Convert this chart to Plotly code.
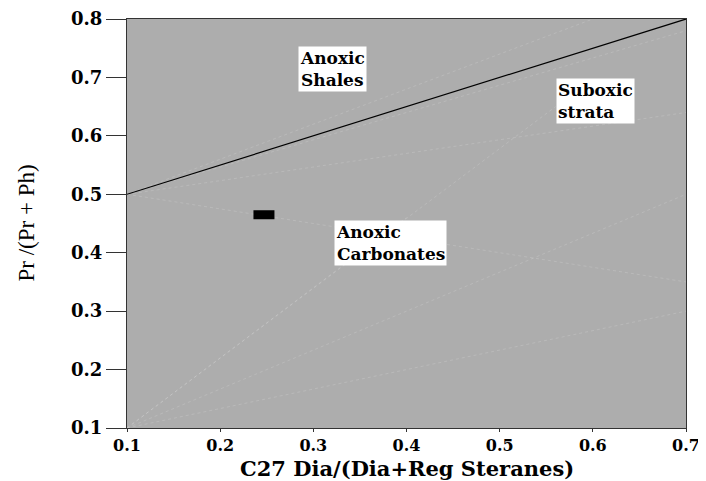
import plotly.graph_objects as go

# boundary line between anoxic shales and carbonates / suboxic
boundary_x = [0.1, 0.7]
boundary_y = [0.5, 0.8]

# sample point
sample_x = [0.247]
sample_y = [0.465]

# region labels
label_text = ["Anoxic<br>Shales", "Suboxic<br>strata", "Anoxic<br>Carbonates"]
label_x = [0.283, 0.56, 0.322]
label_y = [0.754, 0.699, 0.456]

# faint fan lines visible in the background
fan_x = [[0.1, 0.7], [0.1, 0.7], [0.1, 0.56], [0.1, 0.6], [0.1, 0.7],
         [0.1, 0.7], [0.1, 0.7], [0.1, 0.4]]
fan_y = [[0.1, 0.3], [0.1, 0.5], [0.1, 0.65], [0.5, 0.8], [0.5, 0.64],
         [0.5, 0.78], [0.5, 0.35], [0.1, 0.46]]

x_title = "C27 Dia/(Dia+Reg Steranes)"
y_title = "Pr /(Pr + Ph)"

serif_bold = "DejaVu Serif"
serif_plain = "Liberation Serif"

fig = go.Figure()

for fx, fy in zip(fan_x, fan_y):
    fig.add_trace(go.Scatter(
        x=fx, y=fy, mode="lines",
        line=dict(color="rgba(255,255,255,0.15)", width=1, dash="dot"),
        hoverinfo="skip", showlegend=False
    ))

fig.add_trace(go.Scatter(
    x=boundary_x, y=boundary_y, mode="lines",
    line=dict(color="black", width=1.2),
    showlegend=False
))

# sample drawn as a small wide black bar
fig.add_trace(go.Scatter(
    x=sample_x, y=sample_y, mode="markers",
    marker=dict(symbol="line-ew", size=15, line=dict(color="black", width=9)),
    showlegend=False
))

for t, lx, ly in zip(label_text, label_x, label_y):
    fig.add_annotation(
        x=lx, y=ly, text="<b>" + t + "</b>", showarrow=False,
        xanchor="left", yanchor="top", align="left",
        bgcolor="white", borderpad=1,
        font=dict(family=serif_bold, size=17, color="black")
    )

# axis titles placed by hand (automargin is off)
fig.add_annotation(
    x=0.5, y=0, xref="paper", yref="paper", text="<b>" + x_title + "</b>",
    showarrow=False, xanchor="center", yanchor="top", yshift=-26,
    font=dict(family=serif_bold, size=21, color="black")
)
fig.add_annotation(
    x=0, y=0.5, xref="paper", yref="paper", text=y_title, textangle=-90,
    showarrow=False, xanchor="center", yanchor="middle", xshift=-101,
    font=dict(family=serif_plain, size=23, color="black")
)

xt = [0.1, 0.2, 0.3, 0.4, 0.5, 0.6, 0.7]
yt = [0.1, 0.2, 0.3, 0.4, 0.5, 0.6, 0.7, 0.8]

fig.update_layout(
    width=698, height=473,
    margin=dict(l=119, r=20, t=11, b=53),
    paper_bgcolor="white", plot_bgcolor="#adadad",
    font=dict(family=serif_bold, color="black"),
    xaxis=dict(
        range=[0.1, 0.7], tickvals=xt,
        ticktext=["<b>%.1f</b>" % v for v in xt],
        ticks="outside", ticklen=3, tickcolor="#333",
        showline=True, linecolor="#333", linewidth=1, mirror=True,
        showgrid=False, zeroline=False, automargin=False,
        tickfont=dict(size=16, family=serif_bold)
    ),
    yaxis=dict(
        range=[0.1, 0.8], tickvals=yt,
        ticktext=["<b>%.1f</b>" % v for v in yt],
        ticks="outside", ticklen=20, tickcolor="#333",
        showline=True, linecolor="#333", linewidth=1, mirror=True,
        showgrid=False, zeroline=False, automargin=False,
        tickfont=dict(size=18, family=serif_bold)
    ),
)

fig.write_html("out.html")
